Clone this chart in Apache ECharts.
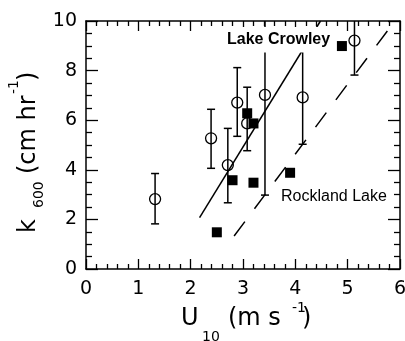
<!DOCTYPE html>
<html>
<head>
<meta charset="utf-8">
<script src="https://cdn.jsdelivr.net/npm/echarts@6/dist/echarts.min.js"></script>
<style>
  html, body { margin: 0; padding: 0; background: #fff; }
  #chart { width: 405px; height: 341px; }
</style>
</head>
<body>
<div id="chart"></div>
<script>
// open circles (with error bars)
var circleU = [1.32, 2.39, 2.71, 2.89, 3.08, 3.42, 4.14, 5.13];
var circleK = [2.82, 5.27, 4.19, 6.71, 5.87, 7.02, 6.92, 9.21];
var errLow = [1.82, 4.06, 2.67, 5.35, 4.77, 2.98, 5.03, 7.82];
var errHigh = [3.85, 6.44, 5.67, 8.12, 7.33, 11.06, 8.81, 10.6];

// filled squares
var squareU = [2.50, 2.80, 3.08, 3.20, 3.20, 3.90, 4.89];
var squareK = [1.48, 3.58, 6.28, 5.87, 3.48, 3.88, 8.99];

// fitted lines
var crowleyU = [2.17, 4.48];
var crowleyK = [2.07, 10.0];
var rocklandU = [2.83, 5.78];
var rocklandK = [1.33, 9.66];

function pairs(a, b) {
  return a.map(function (v, i) { return [v, b[i]]; });
}

var chart = echarts.init(document.getElementById('chart'));

var tickFont = { fontFamily: 'DejaVu Sans', fontSize: 19, color: '#000' };
var frameLine = { show: true, onZero: false, lineStyle: { color: '#000', width: 1.5 } };

function xAx(pos, labels) {
  return {
    type: 'value', position: pos, min: 0, max: 6, interval: 1,
    axisLine: frameLine,
    axisTick: { show: true, inside: true, length: 10, lineStyle: { color: '#000', width: 1.3 } },
    minorTick: { show: true, splitNumber: 5, length: 5, lineStyle: { color: '#000', width: 1.3 } },
    splitLine: { show: false },
    axisLabel: Object.assign({ show: labels, margin: 11 }, tickFont)
  };
}
function yAx(pos, labels) {
  return {
    type: 'value', position: pos, min: 0, max: 10, interval: 2,
    axisLine: frameLine,
    axisTick: { show: true, inside: true, length: 12, lineStyle: { color: '#000', width: 1.3 } },
    minorTick: { show: true, splitNumber: 4, length: 6, lineStyle: { color: '#000', width: 1.3 } },
    splitLine: { show: false },
    axisLabel: Object.assign({ show: labels, margin: 9 }, tickFont)
  };
}

var titleFont = 'DejaVu Sans';

var option = {
  animation: false,
  grid: { left: 86, right: 5, top: 21, bottom: 72, outerBoundsMode: 'none', containLabel: false },
  xAxis: [xAx('bottom', true), xAx('top', false)],
  yAxis: [yAx('left', true), yAx('right', false)],
  series: [
    {
      type: 'custom',
      z: 2,
      data: circleU.map(function (u, i) { return [u, errLow[i], errHigh[i]]; }),
      renderItem: function (params, api) {
        var x = api.value(0), lo = api.value(1), hi = api.value(2);
        var top = api.coord([x, Math.min(hi, 10)]);
        var bot = api.coord([x, lo]);
        var st = { stroke: '#000', lineWidth: 1.5 };
        var kids = [
          { type: 'line', shape: { x1: top[0], y1: top[1], x2: bot[0], y2: bot[1] }, style: st },
          { type: 'line', shape: { x1: bot[0] - 4, y1: bot[1], x2: bot[0] + 4, y2: bot[1] }, style: st }
        ];
        if (hi <= 10) {
          kids.push({ type: 'line', shape: { x1: top[0] - 4, y1: top[1], x2: top[0] + 4, y2: top[1] }, style: st });
        }
        return { type: 'group', children: kids };
      }
    },
    {
      type: 'line', z: 3, data: pairs(crowleyU, crowleyK), symbol: 'none',
      lineStyle: { color: '#000', width: 1.5 }
    },
    {
      type: 'line', z: 3, data: pairs(rocklandU, rocklandK), symbol: 'none',
      lineStyle: { color: '#000', width: 1.5, type: [18, 16] }
    },
    {
      type: 'scatter', z: 4, data: pairs(circleU, circleK), symbol: 'circle', symbolSize: 11,
      itemStyle: { color: 'rgba(0,0,0,0)', borderColor: '#000', borderWidth: 1.3, opacity: 1 }
    },
    {
      type: 'scatter', z: 5, data: pairs(squareU, squareK), symbol: 'rect', symbolSize: 10,
      itemStyle: { color: '#000', opacity: 1 }
    }
  ],
  graphic: [
    // white box behind the Lake Crowley label
    { type: 'rect', z: 100, shape: { x: 224, y: 27, width: 112, height: 25.5 }, style: { fill: '#fff' } },
    { type: 'text', z: 101, x: 227, y: 40, style: { text: 'Lake Crowley', fontFamily: 'Liberation Sans', fontWeight: 'bold', fontSize: 16, fill: '#000', textVerticalAlign: 'middle' } },
    { type: 'text', z: 101, x: 281, y: 197, style: { text: 'Rockland Lake', fontFamily: 'Liberation Sans', fontSize: 16, fill: '#000', textVerticalAlign: 'middle' } },
    // x axis title
    { type: 'text', z: 101, x: 181, y: 319, style: { text: 'U', fontFamily: titleFont, fontSize: 24, fill: '#000', textVerticalAlign: 'middle' } },
    { type: 'text', z: 101, x: 202, y: 337, style: { text: '10', fontFamily: titleFont, fontSize: 14, fill: '#000', textVerticalAlign: 'middle' } },
    { type: 'text', z: 101, x: 228, y: 319, style: { text: '(m s', fontFamily: titleFont, fontSize: 24, fill: '#000', textVerticalAlign: 'middle' } },
    { type: 'text', z: 101, x: 292, y: 308, style: { text: '-1', fontFamily: titleFont, fontSize: 14, fill: '#000', textVerticalAlign: 'middle' } },
    { type: 'text', z: 101, x: 302, y: 319, style: { text: ')', fontFamily: titleFont, fontSize: 24, fill: '#000', textVerticalAlign: 'middle' } },
    // y axis title (rotated)
    { type: 'text', z: 101, x: 29, y: 233, rotation: Math.PI / 2, style: { text: 'k', fontFamily: titleFont, fontSize: 24, fill: '#000', textVerticalAlign: 'middle' } },
    { type: 'text', z: 101, x: 39, y: 208, rotation: Math.PI / 2, style: { text: '600', fontFamily: titleFont, fontSize: 14, fill: '#000', textVerticalAlign: 'middle' } },
    { type: 'text', z: 101, x: 29, y: 174, rotation: Math.PI / 2, style: { text: '(cm hr', fontFamily: titleFont, fontSize: 24, fill: '#000', textVerticalAlign: 'middle' } },
    { type: 'text', z: 101, x: 14, y: 94, rotation: Math.PI / 2, style: { text: '-1', fontFamily: titleFont, fontSize: 14, fill: '#000', textVerticalAlign: 'middle' } },
    { type: 'text', z: 101, x: 29, y: 81, rotation: Math.PI / 2, style: { text: ')', fontFamily: titleFont, fontSize: 24, fill: '#000', textVerticalAlign: 'middle' } }
  ]
};

chart.setOption(option);
</script>
</body>
</html>
